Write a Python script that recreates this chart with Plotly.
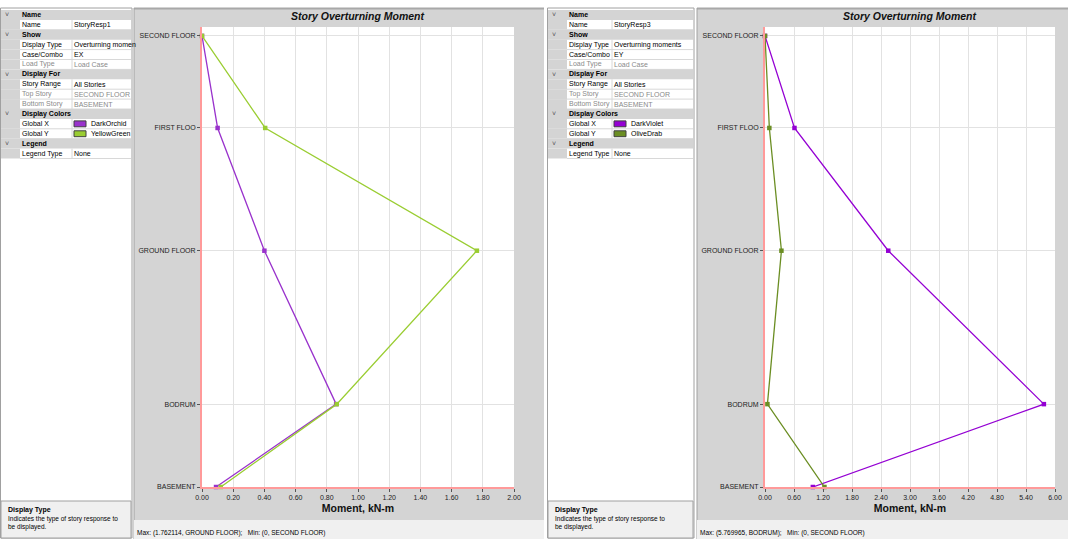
import plotly.graph_objects as go

# ---------------- data ----------------
stories = ["BASEMENT", "BODRUM", "GROUND FLOOR", "FIRST FLOO", "SECOND FLOOR"]
elev = [0.0, 2.7, 7.7, 11.7, 14.7]

ex_global_x = [0.09, 0.86, 0.40, 0.10, 0.0]
ex_global_y = [0.12, 0.864, 1.762114, 0.405, 0.0]

ey_global_x = [0.99, 5.769965, 2.55, 0.61, 0.0]
ey_global_y = [1.23, 0.05, 0.34, 0.09, 0.0]

x1_ticks = [0.0, 0.2, 0.4, 0.6, 0.8, 1.0, 1.2, 1.4, 1.6, 1.8, 2.0]
x2_ticks = [0.0, 0.6, 1.2, 1.8, 2.4, 3.0, 3.6, 4.2, 4.8, 5.4, 6.0]

panel1_rows = [
    ("h", "Name", ""), ("r", "Name", "StoryResp1"), ("h", "Show", ""),
    ("r", "Display Type", "Overturning momen"), ("r", "Case/Combo", "EX"),
    ("d", "Load Type", "Load Case"), ("h", "Display For", ""),
    ("r", "Story Range", "All Stories"), ("d", "Top Story", "SECOND FLOOR"),
    ("d", "Bottom Story", "BASEMENT"), ("h", "Display Colors", ""),
    ("c", "Global X", "DarkOrchid"), ("c", "Global Y", "YellowGreen"),
    ("h", "Legend", ""), ("r", "Legend Type", "None"),
]
panel2_rows = [
    ("h", "Name", ""), ("r", "Name", "StoryResp3"), ("h", "Show", ""),
    ("r", "Display Type", "Overturning moments"), ("r", "Case/Combo", "EY"),
    ("d", "Load Type", "Load Case"), ("h", "Display For", ""),
    ("r", "Story Range", "All Stories"), ("d", "Top Story", "SECOND FLOOR"),
    ("d", "Bottom Story", "BASEMENT"), ("h", "Display Colors", ""),
    ("c", "Global X", "DarkViolet"), ("c", "Global Y", "OliveDrab"),
    ("h", "Legend", ""), ("r", "Legend Type", "None"),
]
colors1 = {"DarkOrchid": "#9932CC", "YellowGreen": "#9ACD32"}
colors2 = {"DarkViolet": "#9400D3", "OliveDrab": "#6B8E23"}

status1 = "Max: (1.762114, GROUND FLOOR);   Min: (0, SECOND FLOOR)"
status2 = "Max: (5.769965, BODRUM);   Min: (0, SECOND FLOOR)"

# ---------------- layout helpers ----------------
W, H = 1068, 539
FONT = "Liberation Sans, Arial, sans-serif"
GREY = "#d4d4d4"
LIGHT = "#f0f0f0"
shapes = []
annots = []


def px(x):
    return x / W


def py(y):
    return 1 - y / H


def rect(x0, y0, x1, y1, fill, line=None, lw=0):
    shapes.append(dict(type="rect", xref="paper", yref="paper",
                       x0=px(x0), x1=px(x1), y0=py(y1), y1=py(y0),
                       fillcolor=fill, line=dict(color=line or fill, width=lw),
                       layer="below"))


def hline(x0, x1, y, color, w=1):
    shapes.append(dict(type="line", xref="paper", yref="paper",
                       x0=px(x0), x1=px(x1), y0=py(y), y1=py(y),
                       line=dict(color=color, width=w), layer="below"))


def vline(x, y0, y1, color, w=1):
    shapes.append(dict(type="line", xref="paper", yref="paper",
                       x0=px(x), x1=px(x), y0=py(y0), y1=py(y1),
                       line=dict(color=color, width=w), layer="below"))


def text(x, y, s, size=7, color="#000000", bold=False, anchor="left"):
    if bold:
        s = "<b>" + s + "</b>"
    annots.append(dict(xref="paper", yref="paper", x=px(x), y=py(y), text=s,
                       showarrow=False, xanchor=anchor, yanchor="middle",
                       font=dict(family=FONT, size=size, color=color)))


rect(0, 0, W, H, "#ffffff")


def prop_panel(x0, x1, split, rows, cmap):
    rect(x0 + 0.5, 8, x1, H - 1, "#ffffff", "#a0a0a0", 1)
    top = 10
    rh = 9.9
    for i, row in enumerate(rows):
        y0 = top + i * rh
        y1 = y0 + rh
        kind = row[0]
        if kind == "h":
            rect(x0 + 1, y0, x1 - 1, y1, GREY)
            text(x0 + 3, (y0 + y1) / 2, "\u02c5", size=7, color="#555555")
            text(x0 + 20, (y0 + y1) / 2, row[1], bold=True)
        else:
            rect(x0 + 1, y0, x0 + 20, y1, GREY)
            hline(x0 + 20, x1 - 1, y1, "#d8d8d8")
            vline(split, y0, y1, "#d8d8d8")
            col = "#8a8a8a" if kind == "d" else "#000000"
            text(x0 + 20, (y0 + y1) / 2, row[1], color=col)
            if kind == "c":
                rect(split + 2, y0 + 2, split + 14, y1 - 2, cmap[row[2]], "#404040", 1)
                text(split + 17, (y0 + y1) / 2, row[2])
            else:
                text(split, (y0 + y1) / 2, row[2], color=col)
    rect(x0 + 1, 501, x1 - 1, H - 1, LIGHT, "#a0a0a0", 1)
    text(x0 + 6, 510, "Display Type", bold=True)
    text(x0 + 6, 519, "Indicates the type of story response to", size=6.5)
    text(x0 + 6, 527, "be displayed.", size=6.5)


def chart_panel(x0, x1, pa0, pa1):
    rect(x0, 8, x1, 520, GREY)
    hline(x0, x1, 8.5, "#a8a8a8", 2)
    vline(x0, 8, H, "#a0a0a0", 1)
    rect(x0, 520, x1, H, LIGHT)
    rect(pa0, 27, pa1, 487, "#ffffff")


prop_panel(0, 132, 72, panel1_rows, colors1)
chart_panel(134, 544, 202, 514)
prop_panel(547, 694, 612, panel2_rows, colors2)
chart_panel(697, W, 765, 1055)

text(358, 16, "<i><b>Story Overturning Moment</b></i>", size=10.5, color="#111111", anchor="center")
text(910, 16, "<i><b>Story Overturning Moment</b></i>", size=10.5, color="#111111", anchor="center")
text(135, 533, status1, size=6.5)
text(698, 533, status2, size=6.5)

fig = go.Figure()

traces = [
    (ex_global_x, "#9932CC", "x", "y"),
    (ex_global_y, "#9ACD32", "x", "y"),
    (ey_global_x, "#9400D3", "x2", "y2"),
    (ey_global_y, "#6B8E23", "x2", "y2"),
]
for vals, col, xa, ya in traces:
    fig.add_trace(go.Scatter(x=vals, y=elev, mode="lines+markers",
                             line=dict(color=col, width=1.3),
                             marker=dict(color=col, size=4.5, symbol="square"),
                             xaxis=xa, yaxis=ya, cliponaxis=False,
                             showlegend=False, hoverinfo="skip"))

dom_y = [py(487), py(27)]


def xaxis(dom, ticks, rng, anchor):
    return dict(domain=dom, range=rng, tickvals=ticks, anchor=anchor,
                ticktext=["%.2f" % t for t in ticks], automargin=False,
                showgrid=True, gridcolor="#e2e2e2", gridwidth=1,
                zeroline=False, showline=True, linecolor="#ff9a9a", linewidth=2,
                ticks="outside", ticklen=3, tickcolor="#555555",
                tickfont=dict(family=FONT, size=7, color="#222222"),
                title=dict(text="<b>Moment, kN-m</b>", standoff=4,
                           font=dict(family=FONT, size=10.5, color="#111111")),
                fixedrange=True)


def yaxis(xa):
    return dict(domain=dom_y, range=[0, 14.99], tickvals=elev, ticktext=stories,
                automargin=False,
                showgrid=True, gridcolor="#e2e2e2", gridwidth=1,
                zeroline=False, showline=True, linecolor="#ff9a9a", linewidth=2,
                ticks="outside", ticklen=3, tickcolor="#555555",
                tickfont=dict(family=FONT, size=7, color="#222222"),
                anchor=xa, fixedrange=True)


fig.update_layout(
    width=W, height=H, autosize=False,
    margin=dict(l=0, r=0, t=0, b=0, pad=0, autoexpand=False),
    paper_bgcolor="#ffffff", plot_bgcolor="rgba(0,0,0,0)",
    xaxis=xaxis([px(202), px(514)], x1_ticks, [0, 2.0], "y"),
    yaxis=yaxis("x"),
    xaxis2=xaxis([px(765), px(1055)], x2_ticks, [0, 6.0], "y2"),
    yaxis2=yaxis("x2"),
    shapes=shapes, annotations=annots,
)

fig.write_html(
    "out.html",
    config={"displayModeBar": False},
    post_script="document.body.style.margin='0';",
)
